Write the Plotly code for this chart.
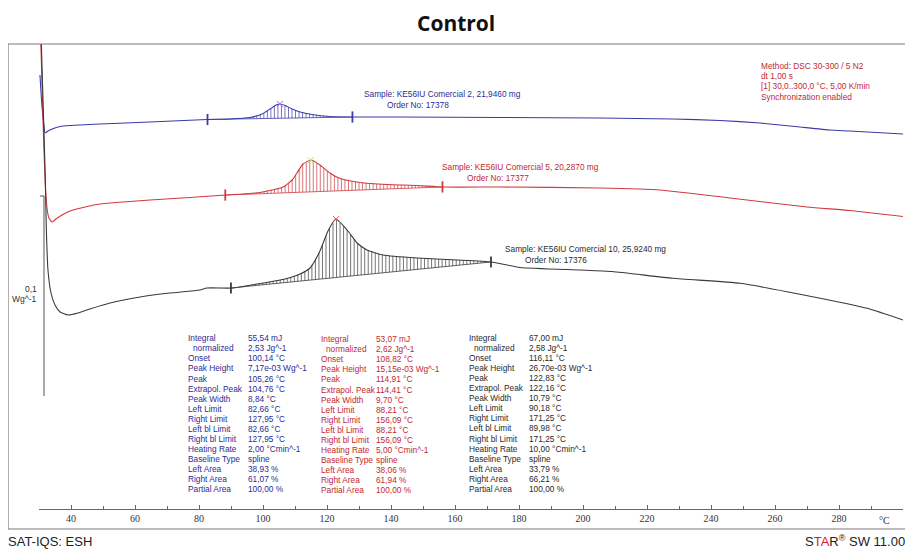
import numpy as np
import plotly.graph_objects as go

# ---------------- data (temperature °C, heat flow mW/g with display offsets) ----------------
t_blue = [30.3, 30.9, 31.6, 31.9, 32.8, 34.1, 36.6, 39.7, 49.1, 64.7, 82.5, 89.7, 95.9, 99.7,
          102.2, 104.1, 105.3, 106.9, 109.1, 111.6, 115.3, 120.9, 127.8, 142.8, 174.1, 205.3,
          228.1, 242.8, 255.3, 267.8, 277.2, 283.4, 300.0]
hf_blue = [112.5, 97.5, 86.5, 83.5, 84.5, 85.5, 86.75, 87.25, 88.0, 89.0, 90.25, 90.5, 91.25, 93.0,
           95.5, 97.5, 98.0, 97.25, 95.5, 94.0, 92.75, 91.75, 91.5, 91.5, 91.25, 91.0,
           90.5, 89.75, 88.5, 86.5, 85.0, 84.5, 83.0]

t_red = [30.47, 31.25, 31.9, 32.5, 33.1, 34.1, 35.3, 37.2, 39.7, 44.4, 49.1, 64.7, 77.2, 88.4,
         99.1, 106.3, 109.1, 110.6, 112.5, 115.0, 117.8, 120.9, 124.1, 130.3, 138.8, 148.1,
         156.3, 174.1, 205.3, 224.1, 245.9, 270.0, 283.4, 300.0]
hf_red = [135, 90, 60, 46, 41, 39, 40.5, 42.5, 44.5, 46.5, 48, 50, 51.25, 52.5,
          53.75, 56.5, 60, 63.5, 68, 70, 67.5, 63.5, 60.75, 58.75, 57.75, 57.25,
          56.5, 56.5, 56, 55, 51, 46.5, 44.75, 41.75]

t_black = [30.6, 31.25, 31.9, 32.3, 32.8, 33.75, 35.0, 36.6, 39.1, 42.2, 45.9, 52.2, 61.6, 70.9,
           80.3, 82.5, 90.3, 99.1, 106.9, 111.6, 114.7, 117.8, 120.3, 122.8, 126.3, 129.4,
           132.5, 137.5, 148.1, 160.6, 171.3, 180.3, 199.1, 209.1, 228.1, 249.1, 263.75,
           288.75, 300.0]
hf_black = [135, 100, 65, 35, 15, 3.5, -2.5, -6, -7.5, -6.5, -4.5, -1.5, 1.5, 3.5,
            5, 6, 6, 8.25, 10.5, 13, 16, 24.5, 34.5, 40.5, 35, 28.5,
            25, 22.5, 21, 20, 19, 16.25, 15, 14.25, 10.85, 8.35, 4.15,
            -4.15, -10]

limits_blue = [82.66, 127.95]
limits_red = [88.21, 156.09]
limits_black = [89.98, 171.25]
peak_blue, peak_red, peak_black = 105.26, 114.91, 122.83

scale_top = 52.0      # mW/g, top of the 0,1 W/g scale bar
scale_len = 100.0     # 0,1 W/g = 100 mW/g

x_ticks = [40, 60, 80, 100, 120, 140, 160, 180, 200, 220, 240, 260, 280]

row_labels = ["Integral", "normalized", "Onset", "Peak Height", "Peak", "Extrapol. Peak",
              "Peak Width", "Left Limit", "Right Limit", "Left bl Limit", "Right bl Limit",
              "Heating Rate", "Baseline Type", "Left Area", "Right Area", "Partial Area"]
vals_blue = ["55,54 mJ", "2,53 Jg^-1", "100,14 °C", "7,17e-03 Wg^-1", "105,26 °C", "104,76 °C",
             "8,84 °C", "82,66 °C", "127,95 °C", "82,66 °C", "127,95 °C", "2,00 °Cmin^-1",
             "spline", "38,93 %", "61,07 %", "100,00 %"]
vals_red = ["53,07 mJ", "2,62 Jg^-1", "108,82 °C", "15,15e-03 Wg^-1", "114,91 °C", "114,41 °C",
            "9,70 °C", "88,21 °C", "156,09 °C", "88,21 °C", "156,09 °C", "5,00 °Cmin^-1",
            "spline", "38,06 %", "61,94 %", "100,00 %"]
vals_black = ["67,00 mJ", "2,58 Jg^-1", "116,11 °C", "26,70e-03 Wg^-1", "122,83 °C", "122,16 °C",
              "10,79 °C", "90,18 °C", "171,25 °C", "89,98 °C", "171,25 °C", "10,00 °Cmin^-1",
              "spline", "33,79 %", "66,21 %", "100,00 %"]

method_lines = ["Method: DSC 30-300 / 5 N2", "dt 1,00 s",
                "[1] 30,0..300,0 °C, 5,00 K/min", "Synchronization enabled"]

# ---------------- styling ----------------
C_BLUE = "#3b3ba6"
C_RED = "#cf3a3e"
C_BLACK = "#3a3a3a"
T_BLUE = "#2c2c96"
T_RED = "#c2292e"
T_BLACK = "#2a2a2a"
TXT_FONT = "Liberation Sans, Arial, sans-serif"
FOOT_FONT = "Liberation Sans Narrow, Arial Narrow, Liberation Sans, sans-serif"

OFF = 8                      # page body margin of the exported html
W, H = 913 - OFF, 552 - OFF
ML, MR, MT, MB = 39 - OFF, 10, 44 - OFF, 43
PW, PH = W - ML - MR, H - MT - MB


def P(px, py):
    """window pixel -> paper coords"""
    return dict(x=(px - OFF - ML) / PW, y=(H - MB - (py - OFF)) / PH, xref="paper", yref="paper")


fig = go.Figure()

series = [
    (t_blue, hf_blue, C_BLUE, limits_blue, peak_blue),
    (t_red, hf_red, C_RED, limits_red, peak_red),
    (t_black, hf_black, C_BLACK, limits_black, peak_black),
]

for t, hf, col, lims, pk in series:
    fig.add_trace(go.Scatter(x=t, y=hf, mode="lines",
                             line=dict(color=col, width=1.1, shape="spline", smoothing=0.5),
                             hoverinfo="skip", showlegend=False))
    b0, b1 = np.interp(lims, t, hf)
    ts = np.arange(lims[0], lims[1] + 1e-9, 1.1)
    base = b0 + (b1 - b0) * (ts - lims[0]) / (lims[1] - lims[0])
    top = np.interp(ts, t, hf)
    xs, ys = [], []
    for a, b, c in zip(ts, base, top):
        xs += [a, a, None]
        ys += [b, c, None]
    fig.add_trace(go.Scatter(x=xs, y=ys, mode="lines", line=dict(color=col, width=0.7),
                             hoverinfo="skip", showlegend=False))
    fig.add_trace(go.Scatter(x=lims, y=[b0, b1], mode="lines+markers",
                             line=dict(color=col, width=0.8),
                             marker=dict(symbol="line-ns-open", size=8,
                                         line=dict(color=col, width=1.8)),
                             hoverinfo="skip", showlegend=False))
    fig.add_trace(go.Scatter(x=[pk], y=[float(np.interp(pk, t, hf))], mode="markers",
                             marker=dict(symbol="x-thin-open", size=6,
                                         line=dict(color=col, width=1)),
                             hoverinfo="skip", showlegend=False))

# scale bar (0,1 W/g)
fig.add_trace(go.Scatter(x=[30.3, 31.56, 31.56], y=[scale_top, scale_top, scale_top - scale_len],
                         mode="lines", line=dict(color="#555555", width=1),
                         hoverinfo="skip", showlegend=False))

ann = []
# sample labels
ann.append(dict(**P(362, 94), text="Sample: KE56IU Comercial 2, 21,9460 mg", font=dict(color=T_BLUE)))
ann.append(dict(**P(385, 105), text="Order No: 17378", font=dict(color=T_BLUE)))
ann.append(dict(**P(440, 167), text="Sample: KE56IU Comercial 5, 20,2870 mg", font=dict(color=T_RED)))
ann.append(dict(**P(465, 178), text="Order No: 17377", font=dict(color=T_RED)))
ann.append(dict(**P(503, 249), text="Sample: KE56IU Comercial 10, 25,9240 mg", font=dict(color=T_BLACK)))
ann.append(dict(**P(523, 260), text="Order No: 17376", font=dict(color=T_BLACK)))
for i, s in enumerate(method_lines):
    ann.append(dict(**P(759, 66 + i * 10.2), text=s, font=dict(color=T_RED)))

# result tables
tables = [(186, 246, 338.3, vals_blue, T_BLUE), (319, 374, 339.3, vals_red, T_RED),
          (467, 526.5, 338.0, vals_black, T_BLACK)]
for lx, vx, y0, vals, col in tables:
    for i, (lab, v) in enumerate(zip(row_labels, vals)):
        py = y0 + i * 10.05
        ann.append(dict(**P(lx + (5 if i == 1 else 0), py), text=lab, font=dict(color=col)))
        ann.append(dict(**P(vx, py), text=v, font=dict(color=col)))

for a in ann:
    a.update(showarrow=False, xanchor="left", yanchor="middle")
    a["font"].update(family=TXT_FONT, size=8.3)

# scale label
ann.append(dict(**P(38.5, 289), text="0,1", showarrow=False, xanchor="right", yanchor="middle",
                font=dict(family=TXT_FONT, size=8.5, color="#333333")))
ann.append(dict(**P(38.5, 299), text="Wg^-1", showarrow=False, xanchor="right", yanchor="middle",
                font=dict(family=TXT_FONT, size=8.5, color="#333333")))
# unit on x axis
ann.append(dict(**P(884, 520), text="°C", showarrow=False, xanchor="center", yanchor="middle",
                font=dict(family="Liberation Serif, serif", size=10, color="#333333")))
# title
ann.append(dict(**P(456, 8), text="<b>Control</b>", showarrow=False, xanchor="center",
                yanchor="top", borderpad=0,
                font=dict(family="Open Sans, sans-serif", size=21, color="#111111")))
# footer
ann.append(dict(**P(6, 541), text="SAT-IQS: ESH", showarrow=False, xanchor="left", yanchor="middle",
                font=dict(family=FOOT_FONT, size=13, color="#222222")))
ann.append(dict(**P(907, 541),
                text="S<span style='color:#d0202a'>TA</span>R<sup>®</sup> SW 11.00",
                showarrow=False, xanchor="right", yanchor="middle",
                font=dict(family=FOOT_FONT, size=13, color="#222222")))

# frame
f0 = P(8, 529)
f1 = P(907, 44)
shapes = [dict(type="rect", xref="paper", yref="paper",
               x0=f0["x"], x1=f1["x"], y0=f0["y"], y1=f1["y"],
               line=dict(color="#7a7a7a", width=1.2), fillcolor="rgba(0,0,0,0)", layer="above")]

fig.update_layout(
    width=W, height=H,
    margin=dict(l=ML, r=MR, t=MT, b=MB),
    paper_bgcolor="white", plot_bgcolor="white",
    showlegend=False,
    annotations=ann,
    shapes=shapes,
    xaxis=dict(range=[30, 300], tickvals=x_ticks, ticktext=[str(v) for v in x_ticks],
               showgrid=False, zeroline=False, showline=True, linecolor="#666666", linewidth=1,
               ticks="inside", ticklen=4, tickcolor="#666666",
               minor=dict(tickvals=list(range(30, 300, 10)), ticks="inside", ticklen=3,
                          tickcolor="#666666"),
               tickfont=dict(family="Liberation Serif, serif", size=10, color="#333333"),
               fixedrange=True),
    yaxis=dict(range=[-104.5, 128], visible=False, fixedrange=True),
)

fig.write_html("out.html")
